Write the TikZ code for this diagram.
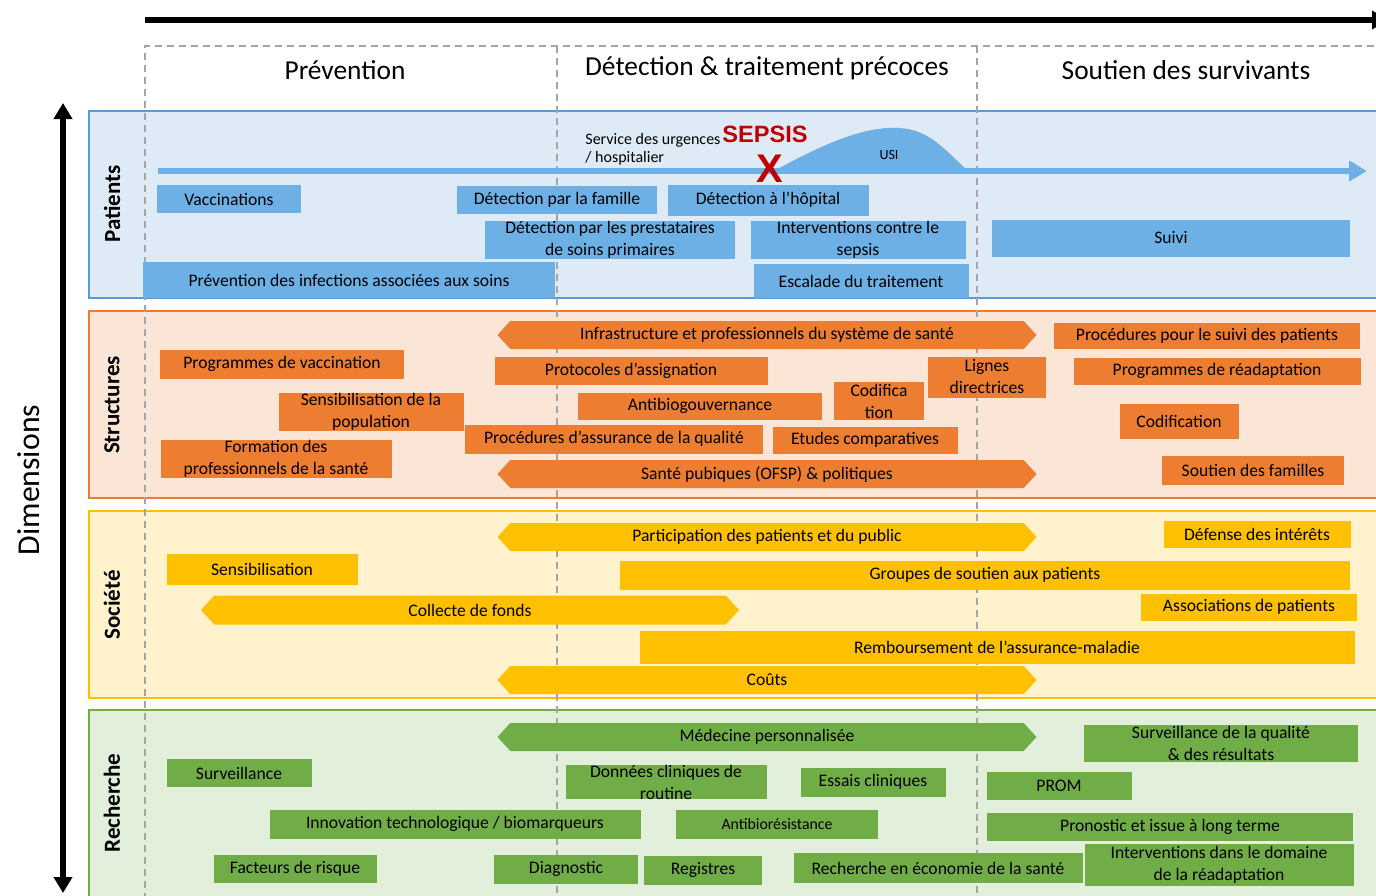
\documentclass[tikz,border=0pt]{standalone}
\usepackage{fontspec}
\setmainfont{Carlito}
\newfontfamily\arialfont{Liberation Sans}
\usetikzlibrary{arrows.meta,shapes.symbols}
\definecolor{pblue}{RGB}{91,155,213}
\definecolor{pbluefill}{RGB}{222,235,247}
\definecolor{boxblue}{RGB}{108,176,230}
\definecolor{sorange}{RGB}{237,125,49}
\definecolor{sorangefill}{RGB}{251,229,214}
\definecolor{syellow}{RGB}{255,192,0}
\definecolor{syellowfill}{RGB}{255,242,204}
\definecolor{rgreen}{RGB}{112,173,71}
\definecolor{rgreenfill}{RGB}{226,239,218}
\definecolor{sepsisred}{RGB}{192,0,0}
\definecolor{gridgray}{RGB}{165,165,165}
\tikzset{
  >={Triangle[length=8pt,width=9pt]},
  zone/.style={draw=#1,line width=1pt,fill=#1fill},
  item/.style={fill=#1,inner sep=0pt,align=center,text=black,
    font=\fontsize{8.8}{11}\selectfont},
  item/.default=boxblue,
  twoway/.style={item=#1,shape=signal,signal to=west and east,signal pointer angle=95},
  phase/.style={font=\fontsize{13.7}{16}\selectfont},
  dimlabel/.style={rotate=90,font=\bfseries\fontsize{11.5}{13}\selectfont},
  grid line/.style={gridgray,line width=0.8pt,dash pattern=on 3.5pt off 2.5pt},
  axis/.style={line width=3pt},
  sz/.style 2 args={minimum width=#1*0.5pt,minimum height=#2*0.5pt},
}

\begin{document}
\begin{tikzpicture}[x=0.5pt,y=-0.5pt]
  \clip (0,0) rectangle (1376,895);
  % bands
  \fill[white] (0,0) rectangle (1376,895);
  \draw[zone=pblue] (89,111) rectangle (1385,298);
  \draw[zone=sorange] (89,311) rectangle (1385,498);
  \draw[zone=syellow] (89,511) rectangle (1385,698);
  \draw[zone=rgreen] (89,710) rectangle (1385,905);
  % phases
  \draw[grid line] (145,900) -- (145,46) -- (1385,46);
  \draw[grid line] (557,46) -- (557,900);
  \draw[grid line] (977,46) -- (977,900);
  \node[phase] (prev) at (345,70) {Prévention};
  \node[phase] (detec) at (767,68) {Détection \& traitement précoces};
  \node[phase] (surv) at (1186,70) {Soutien des survivants};
  % axes
  \coordinate (tstart) at (145,20);
  \coordinate (tend) at (1388,20);
  \draw[axis,->] (tstart) -- (tend);
  \coordinate (dtop) at (63,103);
  \coordinate (dbot) at (63,893);
  \draw[axis,<->] (dbot) -- (dtop);
  \node[rotate=90,font=\fontsize{15.9}{18}\selectfont] (dim) at (29,480) {Dimensions};
  \foreach \n/\y/\t in {lpat/204/Patients,lstr/405/Structures,lsoc/605/Société,lrech/803/Recherche}
    \node[dimlabel] (\n) at (112,\y) {\t};

  % patient pathway
  \coordinate (path0) at (158,171);
  \coordinate (path1) at (1367,171);
  \draw[boxblue,line width=3pt,-{Triangle[length=9pt,width=10pt]}] (path0) -- (path1);
  \fill[boxblue] (774,171) .. controls (830,140) and (868,126) .. (900,128)
    .. controls (930,130) and (945,150) .. (968,171) -- cycle;
  \node[font=\fontsize{7}{8}\selectfont] (usi) at (889,155) {USI};
  \node[anchor=west,align=left,inner sep=0pt,font=\fontsize{8}{9}\selectfont] (urg) at (585,149) {Service des urgences\\/ hospitalier};
  \node[text=sepsisred,font=\arialfont\bfseries\fontsize{11.8}{13}\selectfont] (sepsis) at (765,134) {SEPSIS};
  \node[text=sepsisred,font=\arialfont\bfseries\fontsize{20}{22}\selectfont] (onset) at (770,169) {X};

  % Patients
  \foreach \n/\x/\y/\w/\h/\t in {
    vacc/229/199/144/28/Vaccinations,
    fam/557/200/200/28/Détection par la famille,
    hop/768/200/201/31/Détection à l’hôpital,
    prim/610/240/250/36/Détection par les prestataires\\de soins primaires,
    interv/858/240/215/32/Interventions contre le\\sepsis,
    suivi/1171/238/358/37/Suivi,
    iaso/349/280/412/36/Prévention des infections associées aux soins,
    escal/861/281/215/34/Escalade du traitement}
    \node[item=boxblue,sz={\w}{\h}] (\n) at (\x,\y) {\t};

  % Structures
  \foreach \n/\x/\y/\w/\h/\t in {
    suivpat/1207/336/306/26/Procédures pour le suivi des patients,
    progvac/282/364/244/29/Programmes de vaccination,
    protoc/631/371/273/28/Protocoles d’assignation,
    lignes/987/377/118/41/Lignes\\directrices,
    readap/1217/371/287/27/Programmes de réadaptation,
    sensib/371/412/185/35/Sensibilisation de la\\population,
    abgov/700/406/244/27/Antibiogouvernance,
    codifa/879/401/90/38/Codifica\\tion,
    codifb/1179/421/119/35/Codification,
    qualite/614/439/298/29/Procédures d’assurance de la qualité,
    etudes/865/440/185/27/Etudes comparatives,
    formpro/276/459/231/38/Formation des\\professionnels de la santé,
    famil/1253/470/182/29/Soutien des familles}
    \node[item=sorange,sz={\w}{\h}] (\n) at (\x,\y) {\t};
  \node[twoway=sorange,sz={539}{28}] (infra) at (767,335) {Infrastructure et professionnels du système de santé};
  \node[twoway=sorange,sz={539}{28}] (ofsp) at (767,474) {Santé pubiques (OFSP) \& politiques};

  % Societe
  \foreach \n/\x/\y/\w/\h/\t in {
    defense/1257/534/187/27/Défense des intérêts,
    sensi/262/569/191/31/Sensibilisation,
    groupes/985/575/730/29/Groupes de soutien aux patients,
    assoc/1249/607/216/27/Associations de patients,
    rembours/997/647/715/33/Remboursement de l’assurance-maladie}
    \node[item=syellow,sz={\w}{\h}] (\n) at (\x,\y) {\t};
  \node[twoway=syellow,sz={539}{28}] (partic) at (767,537) {Participation des patients et du public};
  \node[twoway=syellow,sz={538}{29}] (collecte) at (470,610) {Collecte de fonds};
  \node[twoway=syellow,sz={539}{28}] (couts) at (767,680) {Coûts};

  % Recherche
  \foreach \n/\x/\y/\w/\h/\t in {
    survqual/1221/743/274/37/Surveillance de la qualité\\\& des résultats,
    surveil/239/773/145/28/Surveillance,
    donnees/666/782/201/29/Données cliniques de\\routine,
    essais/873/782/145/29/Essais cliniques,
    prom/1059/786/145/28/PROM,
    innov/455/824/371/29/{Innovation technologique / biomarqueurs},
    pronos/1170/827/366/28/Pronostic et issue à long terme,
    facteurs/295/869/163/28/Facteurs de risque,
    diag/566/869/144/29/Diagnostic,
    regist/703/870/118/29/Registres,
    econ/938/868/289/30/Recherche en économie de la santé,
    readint/1219/865/269/42/Interventions dans le domaine\\de la réadaptation}
    \node[item=rgreen,sz={\w}{\h}] (\n) at (\x,\y) {\t};
  \node[item=rgreen,sz={202}{29},font=\fontsize{7.9}{9}\selectfont] (amr) at (777,824) {Antibiorésistance};
  \node[twoway=rgreen,sz={539}{28}] (medpers) at (767,737) {Médecine personnalisée};
\end{tikzpicture}
\end{document}
